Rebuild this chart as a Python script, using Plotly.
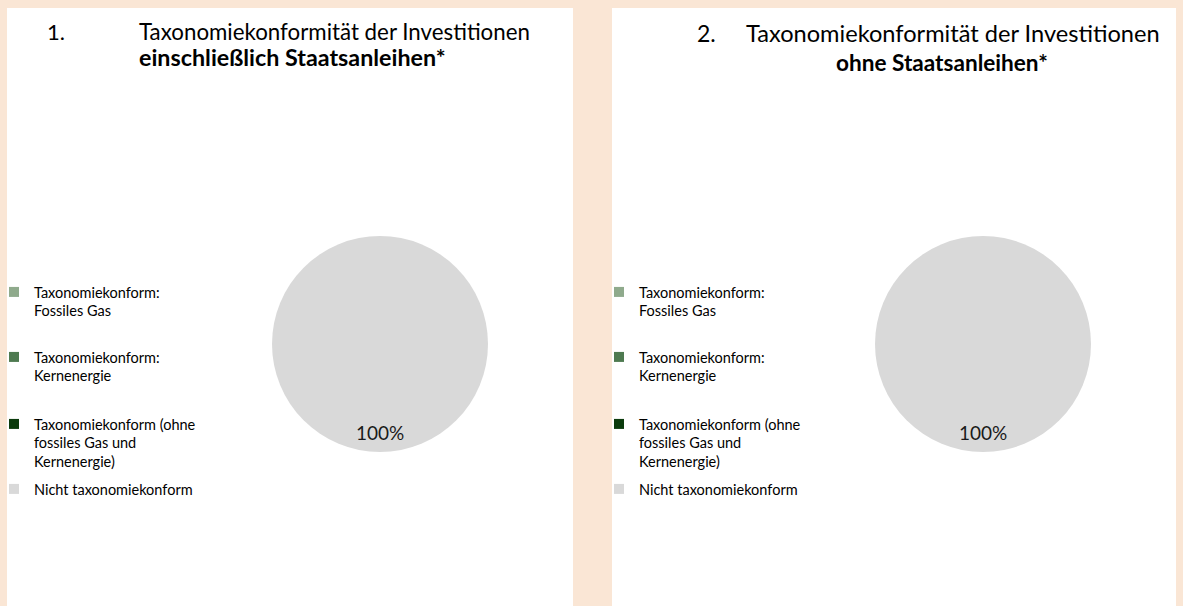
"""
Taxonomy alignment pie charts (two panels)
"""

import plotly.graph_objects as go

W, H = 1183, 606

# data
categories = [
    "Taxonomiekonform:<br>Fossiles Gas",
    "Taxonomiekonform:<br>Kernenergie",
    "Taxonomiekonform (ohne<br>fossiles Gas und<br>Kernenergie)",
    "Nicht taxonomiekonform",
]
colors = ["#8FAA8C", "#4E7A50", "#0B3B0C", "#D9D9D9"]
values_incl = [0, 0, 0, 100]   # einschließlich Staatsanleihen
values_excl = [0, 0, 0, 100]   # ohne Staatsanleihen

FONT = "Lato, Carlito, Calibri, sans-serif"
BG = "#FAE6D5"


def px(x):
    return x / W


def py(y):
    return 1 - y / H


# panel layout (pixels): white box, pie centre/radius, legend x offset
panels = [
    dict(box=(7, 8, 573, 606), cx=380, cy=344, r=108, dx=0, values=values_incl),
    dict(box=(612, 8, 1176, 606), cx=983, cy=344, r=108, dx=605, values=values_excl),
]
legend_rows = [293, 358, 425, 490]   # first-line centre of each legend entry

fig = go.Figure()
shapes = []
annotations = []
legends = {}
n = 0

for p in panels:
    x0, y0, x1, y1 = p["box"]
    shapes.append(dict(
        type="rect", xref="paper", yref="paper",
        x0=px(x0), x1=px(x1), y0=py(y1), y1=py(y0),
        fillcolor="white", line=dict(width=0), layer="below",
    ))

    fig.add_trace(go.Pie(
        labels=categories,
        values=p["values"],
        marker=dict(colors=colors, line=dict(width=0)),
        sort=False,
        direction="clockwise",
        rotation=0,
        textinfo="none",
        showlegend=False,
        hovertemplate="%{label}: %{percent}<extra></extra>",
        domain=dict(
            x=[px(p["cx"] - p["r"]), px(p["cx"] + p["r"])],
            y=[py(p["cy"] + p["r"]), py(p["cy"] - p["r"])],
        ),
    ))

    share = p["values"][-1] / sum(p["values"]) * 100
    annotations.append(dict(
        x=px(p["cx"]), y=py(432), xref="paper", yref="paper",
        text=f"{share:.0f}%", showarrow=False,
        font=dict(family=FONT, size=19, color="#1a1a1a"),
        xanchor="center", yanchor="middle",
    ))

    # legend entries, one legend box per entry so the spacing matches
    for cat, col, row in zip(categories, colors, legend_rows):
        n += 1
        name = "legend" if n == 1 else f"legend{n}"
        fig.add_trace(go.Scatter(
            x=[None], y=[None], mode="markers", name=cat,
            marker=dict(symbol="square", size=10, color=col),
            legend=name, showlegend=True, hoverinfo="skip",
        ))
        legends[name] = dict(
            x=px(-6 + p["dx"]), y=py(row - 17),
            xanchor="left", yanchor="top",
            bgcolor="rgba(0,0,0,0)", borderwidth=0,
            valign="top",
            font=dict(family=FONT, size=14.5, color="#000000"),
        )

# titles
annotations += [
    dict(x=px(45), y=py(31), text="1.", xanchor="left", yanchor="middle",
         font=dict(family=FONT, size=22, color="black")),
    dict(x=px(137), y=py(31), text="Taxonomiekonformität der Investitionen",
         xanchor="left", yanchor="middle",
         font=dict(family=FONT, size=22.3, color="black")),
    dict(x=px(137), y=py(57), text="<b>einschließlich Staatsanleihen*</b>",
         xanchor="left", yanchor="middle",
         font=dict(family=FONT, size=23.3, color="black")),
    dict(x=px(695), y=py(33), text="2.", xanchor="left", yanchor="middle",
         font=dict(family=FONT, size=23, color="black")),
    dict(x=px(744), y=py(33), text="Taxonomiekonformität der Investitionen",
         xanchor="left", yanchor="middle",
         font=dict(family=FONT, size=23.6, color="black")),
    dict(x=px(942), y=py(62), text="<b>ohne Staatsanleihen*</b>",
         xanchor="center", yanchor="middle",
         font=dict(family=FONT, size=22.6, color="black")),
]
for a in annotations:
    a.setdefault("xref", "paper")
    a.setdefault("yref", "paper")
    a.setdefault("showarrow", False)

fig.update_layout(
    width=W,
    height=H,
    margin=dict(l=0, r=0, t=0, b=0, autoexpand=False),
    paper_bgcolor=BG,
    plot_bgcolor="rgba(0,0,0,0)",
    xaxis=dict(visible=False),
    yaxis=dict(visible=False),
    shapes=shapes,
    annotations=annotations,
    **legends,
)

fig.write_html(
    "out.html",
    config=dict(displayModeBar=False),
    post_script="document.body.style.margin='0';document.body.style.overflow='hidden';",
)
